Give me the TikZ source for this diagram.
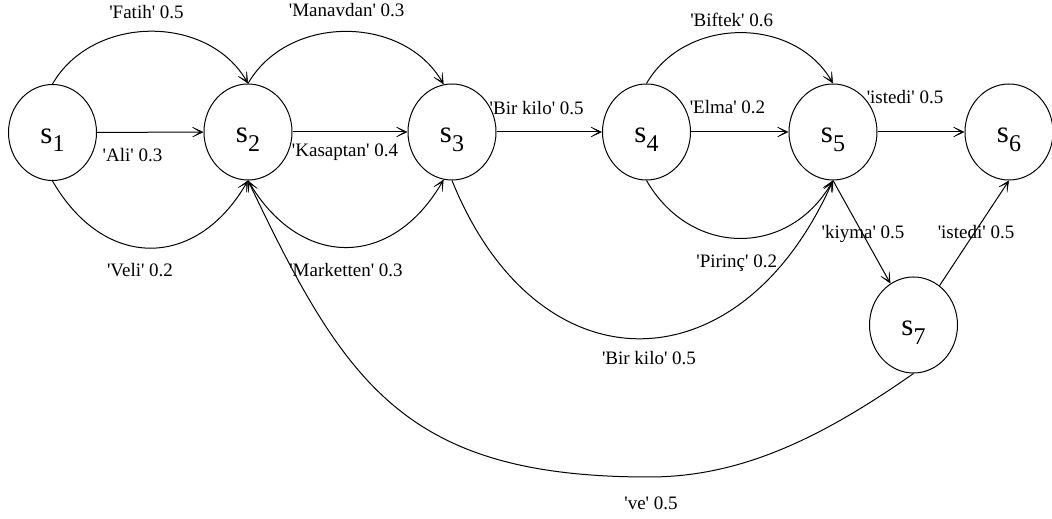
\documentclass[tikz,border=0pt]{standalone}
\usepackage{fontspec}
\newfontfamily\fa{Liberation Serif}
\setmainfont{Liberation Serif}
\usetikzlibrary{arrows.meta,shapes.geometric}
\newcommand\stt[1]{s\raisebox{-8.4pt}{\fontsize{24}{24}\selectfont #1}}
\begin{document}
\begin{tikzpicture}[x=1pt,y=1pt,
  st/.style={ellipse, draw, line width=1pt, minimum width=88pt, minimum height=96pt,
    inner sep=0pt, text height=21.6pt, text depth=0pt, font=\fa\fontsize{31}{31}\selectfont},
  lbl/.style={font=\fa\fontsize{19}{19}\selectfont, inner sep=0pt, anchor=base},
  edge/.style={line width=1pt, -{Stealth[length=15pt,width=14pt,inset=11.5pt,line width=0.5pt]}}]
\useasboundingbox (0,0) rectangle (1052,519);
\node[lbl] (lfatih) at (146.5,500.5) {'Fatih' 0.5};
\node[lbl] (lali) at (132.5,357.3) {'Ali' 0.3};
\node[lbl] (lveli) at (140,242.3) {'Veli' 0.2};
\node[lbl] (lmanav) at (346.7,502.3) {'Manavdan' 0.3};
\node[lbl] (lkasap) at (345,362.3) {'Kasaptan' 0.4};
\node[lbl] (lmarket) at (346,242.3) {'Marketten' 0.3};
\node[lbl] (lbir) at (536.7,404) {'Bir kilo' 0.5};
\node[lbl] (lbiftek) at (731.7,492.3) {'Biftek' 0.6};
\node[lbl] (lelma) at (727.5,405.7) {'Elma' 0.2};
\node[lbl] (listedia) at (905,415.7) {'istedi' 0.5};
\node[lbl] (lpirinc) at (736.7,251.3) {'Pirinç' 0.2};
\node[lbl] (lkiyma) at (863,280.7) {'kiyma' 0.5};
\node[lbl] (listedib) at (976,280.7) {'istedi' 0.5};
\node[lbl] (lbirb) at (649,154) {'Bir kilo' 0.5};
\node[lbl] (lve) at (651,9) {'ve' 0.5};

\node[st] (s1) at (52.5,386.5) {\stt{1}};
\node[st] (s2) at (248,387) {\stt{2}};
\node[st] (s3) at (452,387) {\stt{3}};
\node[st] (s4) at (646.5,387) {\stt{4}};
\node[st] (s5) at (833,387) {\stt{5}};
\node[st] (s6) at (1009,387) {\stt{6}};
\node[st] (s7) at (913.5,194) {\stt{7}};

\draw[edge] (s1) -- (s2);
\draw[edge] (s1.north) to[out=60,in=120,looseness=1.05] (s2.north);
\draw[edge] (s1.south) to[out=-60,in=-120,looseness=1.35] (s2.south);
\draw[edge] (s2.north) to[out=60,in=120,looseness=1.05] (s3.100);
\draw[edge] (s2) -- (s3);
\draw[edge] (s2.south) to[out=-60,in=-120,looseness=1.35] (s3.260);
\draw[edge] (s3) -- (s4);
\draw[edge] (s3.south) to[out=-68,in=-114,looseness=1.54] (s5.south);
\draw[edge] (s4.north) to[out=60,in=120,looseness=1.07] (s5.north);
\draw[edge] (s4) -- (s5);
\draw[edge] (s4.south) to[out=-60,in=-120,looseness=1.22] (s5.south);
\draw[edge] (s5) -- (s6);
\draw[edge] (s5.south) -- (s7);
\draw[edge] (s7) -- (s6.south);
\coordinate (vebot) at (649,42);
\draw[edge] (s7.south) .. controls (820,80) and (740,42) .. (vebot) .. controls (405,42) and (345,135) .. (s2.south);
\end{tikzpicture}
\end{document}
